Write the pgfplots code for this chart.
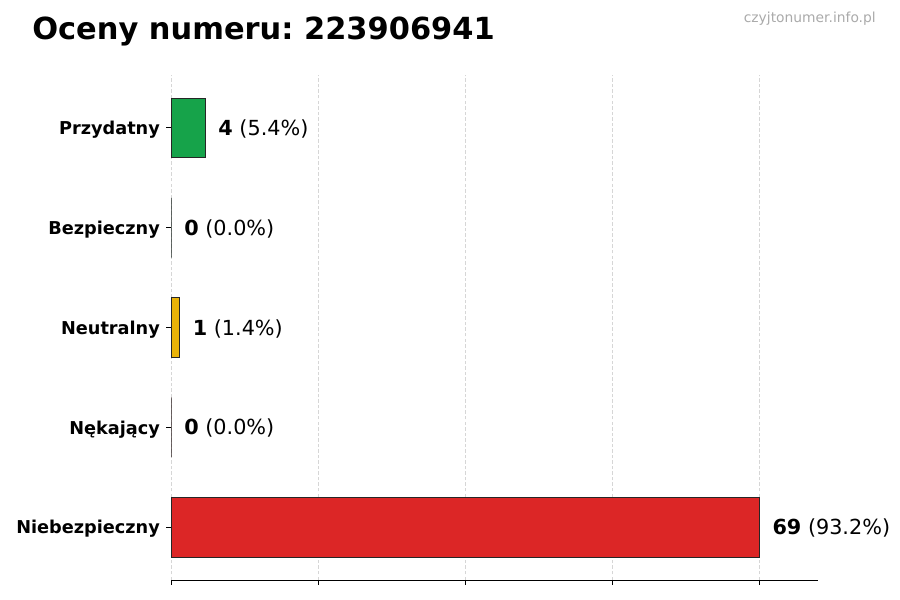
\documentclass[border=0pt]{standalone}
\usepackage{fontspec}
\setmainfont{DejaVu Sans}
\usepackage{pgfplots}
\pgfplotsset{compat=1.18}
\frenchspacing

\definecolor{good}{HTML}{16A34A}
\definecolor{neutral}{HTML}{EAB308}
\definecolor{bad}{HTML}{DC2626}
\definecolor{gridgray}{HTML}{D6D6D6}
\definecolor{markgray}{HTML}{AAAAAA}

\begin{document}
\begin{tikzpicture}
\path[use as bounding box] (0,0) rectangle (9in,6in);

\node[anchor=base west, inner sep=0pt, font=\bfseries\fontsize{22}{26}\selectfont] at (0.32in,5.60in) {Oceny numeru: 223906941};
\node[anchor=base east, inner sep=0pt, text=markgray, font=\fontsize{10}{12}\selectfont] at (8.76in,5.77in) {czyjtonumer.info.pl};

\begin{axis}[
    at={(1.71in,0.20in)}, anchor=south west,
    scale only axis,
    width=6.47in, height=5.05in,
    xmin=0, xmax=75.9,
    ymin=-0.53, ymax=4.53,
    axis x line*=bottom,
    axis y line*=left,
    y axis line style={draw=none},
    x axis line style={line width=0.6pt},
    tick align=outside,
    major tick length=3.5pt,
    every tick/.style={black, line width=0.6pt},
    xtick={0,17.25,34.5,51.75,69},
    xticklabels={},
    ytick={0,1,2,3,4},
    yticklabels={Niebezpieczny,Nękający,Neutralny,Bezpieczny,Przydatny},
    yticklabel style={font=\bfseries\fontsize{12.8}{15}\selectfont, xshift=-1pt, yshift=-1.5pt},
    xmajorgrids,
    major grid style={gridgray, dash pattern=on 2.5pt off 1.5pt, line width=0.5pt},
    xbar, bar width=0.6, bar shift=0,
    nodes near coords,
    point meta=explicit symbolic,
    every node near coord/.append style={anchor=west, xshift=6pt, yshift=-0.8pt, font=\fontsize{15}{18}\selectfont, black},
    clip=false,
]
\addplot[draw=black!85, line width=0.6pt, fill=bad] coordinates {(69,0) [{\textbf{69} (93.2\%)}]};
\addplot[draw=black!85, line width=0.6pt, fill=bad] coordinates {(0,1) [{\textbf{0} (0.0\%)}]};
\addplot[draw=black!85, line width=0.6pt, fill=neutral] coordinates {(1,2) [{\textbf{1} (1.4\%)}]};
\addplot[draw=black!85, line width=0.6pt, fill=good] coordinates {(0,3) [{\textbf{0} (0.0\%)}]};
\addplot[draw=black!85, line width=0.6pt, fill=good] coordinates {(4,4) [{\textbf{4} (5.4\%)}]};
\end{axis}
\end{tikzpicture}
\end{document}
